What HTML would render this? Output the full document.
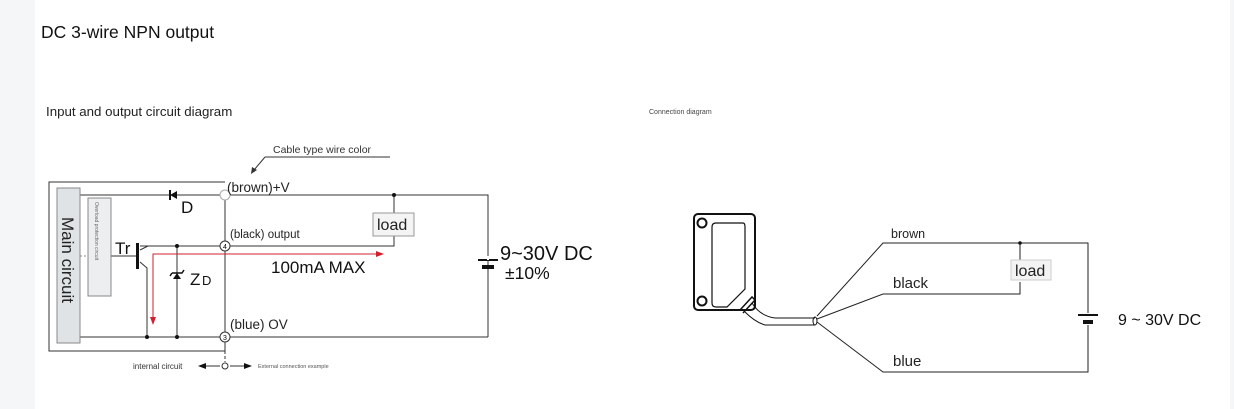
<!DOCTYPE html>
<html><head><meta charset="utf-8"><style>
html,body{margin:0;padding:0;width:1234px;height:409px;overflow:hidden;background:#fff;}
svg{display:block;font-family:"Liberation Sans",sans-serif;}
</style></head><body>
<svg width="1234" height="409" viewBox="0 0 1234 409">
<rect x="0" y="0" width="35" height="409" fill="#f5f6f8"/>
<rect x="1230" y="0" width="4" height="409" fill="#f5f6f8"/>
<text x="41" y="38" font-size="17.5" fill="#111">DC 3-wire NPN output</text>
<text x="46" y="116" font-size="13.3" fill="#222">Input and output circuit diagram</text>
<text x="649" y="114" font-size="7" fill="#444">Connection diagram</text>

<g stroke="#333" stroke-width="1" fill="none">
<path d="M225 182 H49 V351 H225"/>
<path d="M80 195 H220 M230 195 H488 V337 M80 337 H220 M230 337 H488"/>
<path d="M225 200 V241 M225 251 V332 M225 342 V351"/>
<path d="M225 351 V362" stroke-dasharray="3,2"/>
<path d="M140 246 H148 M148 246 H220 M230 246 H394 V236 M394 213 V195"/>
<path d="M111 256 H137"/>
<path d="M140 250 L148 246 M140 262 L147 268 V337"/>
<path d="M177 246 V337"/>
<path d="M265 157 H390 M265 157 L254 170"/>
<path d="M205 366 H220 M230 366 H245"/>
</g>
<line x1="80" y1="256" x2="88" y2="256" stroke="#888" stroke-width="1" stroke-dasharray="2,2"/>
<polygon points="251,174 252,167 257,170" fill="#333"/>
<path d="M170 190 V200" stroke="#111" stroke-width="2"/>
<polygon points="170,195 177,191 177,199" fill="#111"/>
<text x="181" y="213" font-size="17" fill="#111">D</text>
<rect x="136" y="243" width="3" height="26" fill="#111"/>
<text x="115" y="254" font-size="17" fill="#111">Tr</text>
<polygon points="173,279 181,279 177,273" fill="#111"/>
<path d="M172 273 H182 L184 270 M172 273 L170 276" stroke="#111" stroke-width="1.5" fill="none"/>
<text x="190" y="285" font-size="17" fill="#111">Z</text><text x="202" y="285" font-size="13" fill="#111">D</text>
<circle cx="147" cy="337" r="2" fill="#111"/><circle cx="177" cy="337" r="2" fill="#111"/>
<circle cx="177" cy="246" r="2" fill="#111"/><circle cx="394" cy="195" r="2" fill="#111"/>
<circle cx="225" cy="195" r="5" fill="#fff" stroke="#aaa"/>
<circle cx="225" cy="246" r="5" fill="#fff" stroke="#333"/>
<text x="225" y="249" font-size="7" text-anchor="middle">4</text>
<circle cx="225" cy="337" r="5" fill="#fff" stroke="#333"/>
<text x="225" y="340" font-size="7" text-anchor="middle">3</text>
<rect x="57" y="188" width="23" height="155" fill="#dfe3e6" stroke="#888"/>
<text transform="translate(62,217) rotate(90)" font-size="17" fill="#222">Main circuit</text>
<rect x="88" y="198" width="23" height="98" fill="#eceef0" stroke="#888"/>
<text transform="translate(95,202) rotate(90)" font-size="5" fill="#666">Overload protection circuit</text>
<path d="M153 320 V254 H378" stroke="#d02030" stroke-width="1" fill="none"/>
<polygon points="384,254 376,251 376,257" fill="#d02030"/>
<polygon points="153,325 150,317 156,317" fill="#d02030"/>
<text x="271" y="273" font-size="17" fill="#111">100mA  MAX</text>
<text x="227" y="192" font-size="13.5" fill="#222">(brown)+V</text>
<text x="230" y="238" font-size="11.5" fill="#222">(black) output</text>
<text x="230" y="329" font-size="13.5" fill="#222">(blue) OV</text>
<text x="273" y="153" font-size="10.5" fill="#333">Cable type wire color</text>
<rect x="373" y="213" width="41" height="23" fill="#f4f4f4" stroke="#999"/>
<text x="377" y="230" font-size="16" fill="#222">load</text>
<path d="M478 260 H498" stroke="#111" stroke-width="2"/>
<rect x="482" y="265" width="12" height="4" fill="#111"/>
<rect x="487" y="256" width="2" height="4" fill="#fff"/>
<text x="500" y="260" font-size="20" fill="#111">9~30V DC</text>
<text x="505" y="279" font-size="17.5" fill="#111">±10%</text>
<polygon points="198,366 206,363 206,369" fill="#111"/>
<polygon points="252,366 244,363 244,369" fill="#111"/>
<circle cx="225" cy="366" r="3" fill="#fff" stroke="#333"/>
<text x="133" y="369" font-size="8" fill="#333">internal circuit</text>
<text x="258" y="368" font-size="5.5" fill="#555">External connection example</text>

<g fill="none" stroke="#111">
<rect x="694" y="214" width="61" height="96" rx="4" stroke-width="2"/>
<path d="M712 227 Q712 223 716 223 H743 Q745 223 745 227 V289 L727 307 H716 Q712 307 712 303 Z" stroke-width="1.2"/>
<circle cx="702" cy="223" r="4.5" stroke-width="2"/>
<circle cx="702" cy="301" r="4.5" stroke-width="2"/>
<path d="M740 310 L752 297 L755 300 L743 313" stroke-width="1.5"/>
<path d="M752 303 Q760 316 775 318 H815 M745 312 Q755 322 765 325 H815" stroke-width="1"/>
<ellipse cx="815" cy="321" rx="2" ry="4" stroke-width="1"/>
<g stroke="#222" stroke-width="1">
<path d="M817 316 L883 243 H1088 V313 M1088 325 V372 H883 L817 322"/>
<path d="M817 319 L883 294 H1020 V282 M1020 260 V243"/>
</g>
</g>
<circle cx="1020" cy="243" r="1.8" fill="#111"/>
<text x="891" y="238" font-size="12.5" fill="#222">brown</text>
<text x="893" y="288" font-size="15" fill="#222">black</text>
<text x="893" y="366" font-size="15" fill="#222">blue</text>
<rect x="1011" y="260" width="40" height="20" fill="#f3f3f3" stroke="#ccc"/>
<text x="1015" y="276" font-size="16" fill="#222">load</text>
<path d="M1078 315 H1098" stroke="#111" stroke-width="2"/>
<rect x="1083" y="320" width="10" height="4" fill="#111"/>
<text x="1118" y="325" font-size="16" fill="#111">9 ~ 30V DC</text>
</svg>
</body></html>
